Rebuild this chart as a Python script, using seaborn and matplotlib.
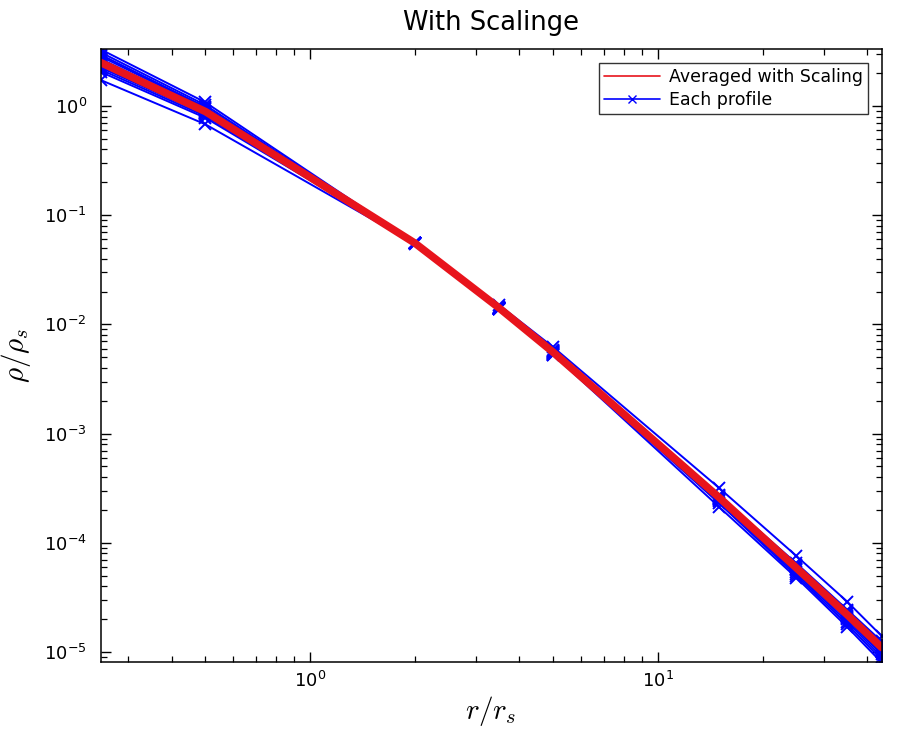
import numpy as np
import pandas as pd
import matplotlib
matplotlib.use("Agg")
import matplotlib.pyplot as plt
from matplotlib.lines import Line2D
import seaborn as sns

# ---- data ----
r_vals = [0.25, 0.5, 2.0, 3.5, 5.0, 15.0, 25.0, 35.0, 44.0]

avg_rho = [2.50, 0.89, 0.0556, 0.0141, 0.00556, 2.60e-4, 5.9e-5, 2.2e-5, 1.1e-5]

profile_1 = [3.30, 1.08, 0.0560, 0.0138, 0.0053, 2.40e-4, 5.2e-5, 1.9e-5, 9.0e-6]
profile_2 = [3.10, 1.02, 0.0558, 0.0139, 0.0054, 2.45e-4, 5.4e-5, 2.0e-5, 9.5e-6]
profile_3 = [2.95, 0.98, 0.0557, 0.0140, 0.0055, 2.50e-4, 5.6e-5, 2.05e-5, 1.0e-5]
profile_4 = [2.85, 0.96, 0.0556, 0.0141, 0.0056, 2.55e-4, 5.8e-5, 2.15e-5, 1.05e-5]
profile_5 = [2.70, 0.93, 0.0556, 0.0142, 0.0057, 2.65e-4, 6.0e-5, 2.25e-5, 1.12e-5]
profile_6 = [2.60, 0.91, 0.0555, 0.0141, 0.0056, 2.60e-4, 6.1e-5, 2.3e-5, 1.15e-5]
profile_7 = [2.45, 0.88, 0.0556, 0.0143, 0.0058, 2.75e-4, 6.3e-5, 2.4e-5, 1.2e-5]
profile_8 = [2.35, 0.86, 0.0557, 0.0142, 0.0057, 2.70e-4, 6.5e-5, 2.45e-5, 1.25e-5]
profile_9 = [2.25, 0.84, 0.0555, 0.0140, 0.0055, 2.50e-4, 5.7e-5, 2.1e-5, 1.0e-5]
profile_10 = [2.15, 0.81, 0.0556, 0.0139, 0.0054, 2.30e-4, 5.0e-5, 1.8e-5, 8.5e-6]
profile_11 = [1.73, 0.68, 0.0550, 0.0137, 0.0053, 2.13e-4, 4.8e-5, 1.7e-5, 8.0e-6]
profile_12 = [2.05, 0.78, 0.0562, 0.0150, 0.0062, 3.18e-4, 7.6e-5, 2.9e-5, 1.4e-5]

profiles = [profile_1, profile_2, profile_3, profile_4, profile_5, profile_6,
            profile_7, profile_8, profile_9, profile_10, profile_11, profile_12]

title_text = "With Scalinge"
legend_labels = ["Averaged with Scaling", "Each profile"]

# ---- build tables ----
rows = []
for i, p in enumerate(profiles):
    for r, v in zip(r_vals, p):
        rows.append({"profile": i, "r": r, "rho": v})
df_prof = pd.DataFrame(rows)
df_avg = pd.DataFrame({"r": r_vals, "rho": avg_rho})

sns.set_theme(style="ticks")
plt.rcParams.update({
    "font.family": ["DejaVu Sans"],
    "mathtext.fontset": "cm",
    "xtick.direction": "in",
    "ytick.direction": "in",
    "xtick.top": True,
    "ytick.right": True,
    "axes.linewidth": 1.1,
    "axes.edgecolor": "black",
    "text.color": "black",
    "axes.labelcolor": "black",
    "xtick.color": "black",
    "ytick.color": "black",
})

fig = plt.figure(figsize=(8.97, 7.41), dpi=100, facecolor="white")
ax = fig.add_axes([0.1123, 0.1062, 0.8706, 0.8277])

sns.lineplot(data=df_prof, x="r", y="rho", units="profile", estimator=None,
             color="#0000ff", lw=1.4, marker="x", markersize=9,
             markeredgewidth=1.4, markeredgecolor="#0000ff",
             sort=False, ax=ax, legend=False)
sns.lineplot(data=df_avg, x="r", y="rho", color="#e8141c", lw=5.5,
             sort=False, ax=ax, legend=False)

ax.set_xscale("log")
ax.set_yscale("log")
ax.set_xlim(0.25, 44)
ax.set_ylim(8.05e-6, 3.33)

ax.tick_params(which="major", length=7, width=1.0, labelsize=13, pad=6)
ax.tick_params(which="minor", length=4, width=0.9)
ax.tick_params(axis="y", pad=10)

ax.set_title(title_text, fontsize=18.5, pad=14)
ax.set_xlabel(r"$r/r_s$", fontsize=21, labelpad=2)
ax.set_ylabel(r"$\rho/\rho_s$", fontsize=21, labelpad=8)

handles = [Line2D([], [], color="#e8141c", lw=1.2),
           Line2D([], [], color="#0000ff", lw=1.2, marker="x", markersize=6,
                  markeredgewidth=1.0)]
leg = ax.legend(handles, legend_labels, loc="upper right", fontsize=12.5,
                frameon=True, fancybox=False, edgecolor="black",
                borderaxespad=0.8, handlelength=3.2, borderpad=0.3,
                labelspacing=0.3, handletextpad=0.5)
leg.get_frame().set_linewidth(1.0)

for s in ax.spines.values():
    s.set_color("black")

fig.savefig("out.png", dpi=100, facecolor="white")
